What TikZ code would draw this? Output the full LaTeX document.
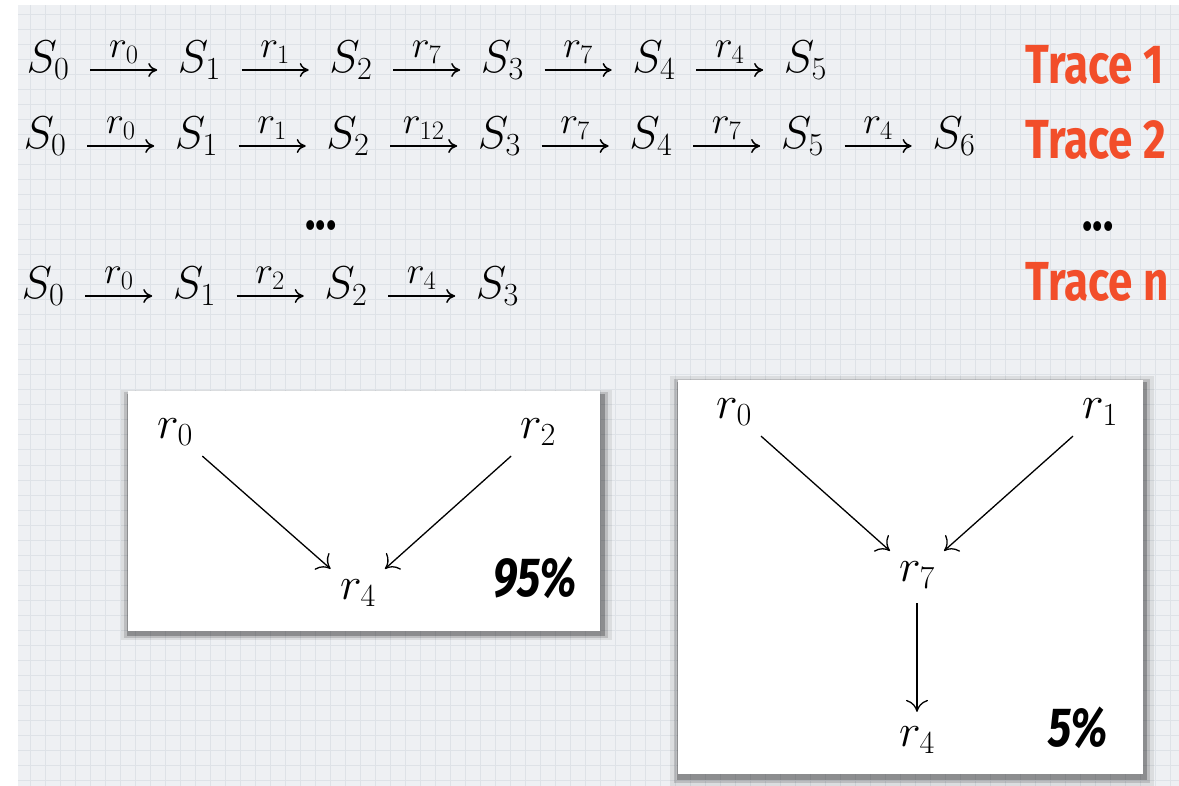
\RequirePackage{fix-cm}
\documentclass[tikz,border=0pt]{standalone}
\usepackage{amsmath}
\usepackage{fontspec}
\usepackage{tikz}
\usetikzlibrary{arrows.meta,positioning,shadows}
\newfontfamily\tracefont[FakeStretch=0.8]{Fira Sans}
\definecolor{tracered}{RGB}{242,78,42}
\definecolor{paper}{RGB}{238,240,243}
\definecolor{gridline}{RGB}{222,226,231}

\begin{document}
\begin{tikzpicture}[
    x=1pt,y=-1pt,
    node distance=67pt,
    state/.style={inner xsep=20pt,inner ysep=0pt,text height=0.8em,text depth=0.3em,
                  font=\fontsize{46}{50}\selectfont},
    act/.style={midway,above=6pt,inner sep=0pt,font=\fontsize{38}{42}\selectfont},
    tracename/.style={anchor=base west,inner sep=0pt,text=tracered,
                      font=\tracefont\bfseries\fontsize{55}{60}\selectfont},
    dots/.style={anchor=base,inner sep=0pt,font=\tracefont\bfseries\fontsize{54}{58}\selectfont},
    panel/.style={fill=white,inner sep=0pt,
                  general shadow={shadow xshift=2pt,shadow yshift=-4pt,shadow scale=1.04,fill=black,opacity=0.08},
                  general shadow={shadow xshift=2pt,shadow yshift=-4pt,shadow scale=1.025,fill=black,opacity=0.14},
                  general shadow={shadow xshift=2pt,shadow yshift=-4pt,shadow scale=1.012,fill=black,opacity=0.25}},
    rule/.style={inner sep=10pt,font=\fontsize{46}{50}\selectfont},
    link/.style={-{To[length=12pt,width=22pt]},line width=1.3pt},
    pct/.style={inner sep=0pt,font=\tracefont\bfseries\itshape\fontsize{55}{58}\selectfont},
    >={To[length=9pt,width=14pt]},line width=1.5pt
  ]
    \useasboundingbox (0,0) rectangle (1179,786);
    % squared paper
    \fill[paper] (18,5) rectangle (1179,786);
    \draw[gridline,line width=1pt,step=15pt] (18,786) grid (1179,5);

    % trace 1
    \node[state] (a0) at (48,70) {$S_0$};
    \foreach \r [count=\i from 1] in {0,1,7,7,4}{
      \pgfmathtruncatemacro\p{\i-1}
      \node[state,right=of a\p] (a\i) {$S_\i$};
      \draw[->] (a\p) -- node[act] {$r_{\r}$} (a\i);
    }
    % trace 2
    \node[state] (b0) at (45,146) {$S_0$};
    \foreach \r [count=\i from 1] in {0,1,12,7,7,4}{
      \pgfmathtruncatemacro\p{\i-1}
      \node[state,right=of b\p] (b\i) {$S_\i$};
      \draw[->] (b\p) -- node[act] {$r_{\r}$} (b\i);
    }
    % trace n
    \node[state] (c0) at (43,296) {$S_0$};
    \foreach \r [count=\i from 1] in {0,2,4}{
      \pgfmathtruncatemacro\p{\i-1}
      \node[state,right=of c\p] (c\i) {$S_\i$};
      \draw[->] (c\p) -- node[act] {$r_{\r}$} (c\i);
    }

    \node[tracename] (t1) at (1025,84) {Trace 1};
    \node[tracename] (t2) at (1025,159) {Trace 2};
    \node[tracename] (tn) at (1025,301) {Trace n};
    \node[dots] (skip) at (321,230) {...};
    \node[dots] (skipname) at (1098,231) {...};

    % 95% box
    \node[panel,minimum width=472pt,minimum height=240pt] (p95) at (364,511) {};
    \node[rule] (u0) at (175,432) {$r_0$};
    \node[rule] (u2) at (538,432) {$r_2$};
    \node[rule] (u4) at (358,593) {$r_4$};
    \draw[link] (u0) -- (u4);
    \draw[link] (u2) -- (u4);
    \node[pct] (q95) at (535,578) {95\%};

    % 5% box
    \node[panel,minimum width=465pt,minimum height=394pt] (p5) at (910,577) {};
    \node[rule] (v0) at (734,412) {$r_0$};
    \node[rule] (v1) at (1100,412) {$r_1$};
    \node[rule] (v7) at (917,575) {$r_7$};
    \node[rule] (v4) at (917,740) {$r_4$};
    \draw[link] (v0) -- (v7);
    \draw[link] (v1) -- (v7);
    \draw[link,shorten <=4pt,shorten >=4pt] (v7) -- (v4);
    \node[pct] (q5) at (1078,728) {5\%};
  \end{tikzpicture}
\end{document}
